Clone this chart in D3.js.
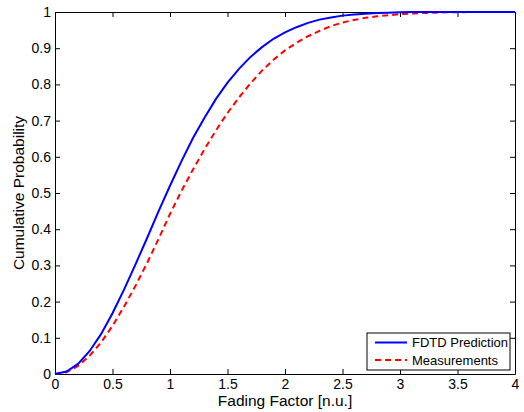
<!DOCTYPE html>
<html>
<head>
<meta charset="utf-8">
<script src="https://cdn.jsdelivr.net/npm/d3@7"></script>
<style>
  body { margin: 0; background: #fff; }
  svg { font-family: "Liberation Sans", Arial, sans-serif; }
</style>
</head>
<body>
<svg id="canvas" width="524" height="412"></svg>
<script>
// ---------------- data ----------------
let fadingFactor = [0, 0.1, 0.2, 0.3, 0.4, 0.5, 0.6, 0.7, 0.8, 0.9, 1.0, 1.1, 1.2, 1.3, 1.4, 1.5, 1.6, 1.7, 1.8, 1.9,
                    2.0, 2.1, 2.2, 2.3, 2.4, 2.5, 2.6, 2.7, 2.8, 2.9, 3.0, 3.1, 3.2, 3.3, 3.4, 3.5, 3.6, 3.7, 3.8, 3.9, 4.0]
let fdtdPrediction = [0, 0.007, 0.028, 0.063, 0.110, 0.168, 0.233, 0.303, 0.375, 0.449, 0.520, 0.588, 0.652, 0.708, 0.760, 0.805, 0.843, 0.876, 0.903, 0.926,
                      0.944, 0.958, 0.970, 0.979, 0.985, 0.990, 0.993, 0.995, 0.997, 0.998, 0.999, 1, 1, 1, 1, 1, 1, 1, 1, 1, 1]
let measurements = [0, 0.005, 0.022, 0.050, 0.087, 0.133, 0.186, 0.244, 0.306, 0.373, 0.442, 0.506, 0.565, 0.621, 0.673, 0.721, 0.764, 0.803, 0.838, 0.868,
                    0.894, 0.915, 0.933, 0.948, 0.961, 0.971, 0.978, 0.984, 0.988, 0.991, 0.994, 0.996, 0.997, 0.998, 0.999, 0.999, 1, 1, 1, 1, 1]
let xTicks = [0, 0.5, 1, 1.5, 2, 2.5, 3, 3.5, 4]
let yTicks = [0, 0.1, 0.2, 0.3, 0.4, 0.5, 0.6, 0.7, 0.8, 0.9, 1]
let seriesNames = ['FDTD Prediction', 'Measurements']

// ---------------- setup ----------------
let canvas = d3.select('#canvas')
let plotLeft = 55, plotRight = 515, plotTop = 12, plotBottom = 374

let xScale = d3.scaleLinear().domain([0, 4]).range([plotLeft, plotRight])
let yScale = d3.scaleLinear().domain([0, 1]).range([plotBottom, plotTop])

// axes, ticks point inwards like matlab
let styleAxis = (g) => {
  g.attr('font-family', null).attr('font-size', null)
  g.selectAll('path.domain').attr('stroke', '#000').attr('stroke-width', 1)
  g.selectAll('.tick line').attr('stroke', '#000')
  g.selectAll('.tick text').attr('fill', '#000').style('font-size', '14px')
}

canvas.append('g')
  .attr('transform', `translate(0,${plotBottom})`)
  .call(d3.axisBottom(xScale).tickValues(xTicks).tickFormat(d3.format('')).tickSizeInner(-5).tickSizeOuter(0).tickPadding(5))
  .call(styleAxis)

canvas.append('g')
  .attr('transform', `translate(${plotLeft},0)`)
  .call(d3.axisLeft(yScale).tickValues(yTicks).tickFormat(d3.format('')).tickSizeInner(-5).tickSizeOuter(0).tickPadding(4))
  .call(styleAxis)

canvas.append('g')
  .attr('transform', `translate(0,${plotTop})`)
  .call(d3.axisTop(xScale).tickValues(xTicks).tickFormat('').tickSizeInner(-5).tickSizeOuter(0))
  .call(styleAxis)

canvas.append('g')
  .attr('transform', `translate(${plotRight},0)`)
  .call(d3.axisRight(yScale).tickValues(yTicks).tickFormat('').tickSizeInner(-5).tickSizeOuter(0))
  .call(styleAxis)

// ---------------- lines ----------------
let makeLine = (values) => d3.line()
  .x((d, i) => xScale(fadingFactor[i]))
  .y((d) => yScale(d))(values)

canvas.append('path')
  .attr('d', makeLine(measurements))
  .attr('fill', 'none')
  .attr('stroke', '#ff0000')
  .attr('stroke-width', 2)
  .attr('stroke-dasharray', '6,4')

canvas.append('path')
  .attr('d', makeLine(fdtdPrediction))
  .attr('fill', 'none')
  .attr('stroke', '#0000ff')
  .attr('stroke-width', 2)

// ---------------- labels ----------------
canvas.append('text')
  .attr('x', (plotLeft + plotRight) / 2)
  .attr('y', 406)
  .attr('text-anchor', 'middle')
  .style('font-size', '15.5px')
  .text('Fading Factor [n.u.]')

canvas.append('text')
  .attr('transform', `translate(24,${(plotTop + plotBottom) / 2}) rotate(-90)`)
  .attr('text-anchor', 'middle')
  .style('font-size', '15.5px')
  .text('Cumulative Probability')

// ---------------- legend ----------------
let legend = canvas.append('g')
legend.append('rect')
  .attr('x', 367).attr('y', 333)
  .attr('width', 143).attr('height', 37)
  .attr('fill', '#fff').attr('stroke', '#000').attr('stroke-width', 1)

let legendColors = ['#0000ff', '#ff0000']
let legendDash = [null, '6,4']
seriesNames.forEach((name, i) => {
  let cy = 342.5 + i * 17.5
  legend.append('line')
    .attr('x1', 375).attr('x2', 407)
    .attr('y1', cy).attr('y2', cy)
    .attr('stroke', legendColors[i])
    .attr('stroke-width', 2)
    .attr('stroke-dasharray', legendDash[i])
  legend.append('text')
    .attr('x', 412).attr('y', cy)
    .attr('dy', '0.35em')
    .style('font-size', '13px')
    .text(name)
})
</script>
</body>
</html>
